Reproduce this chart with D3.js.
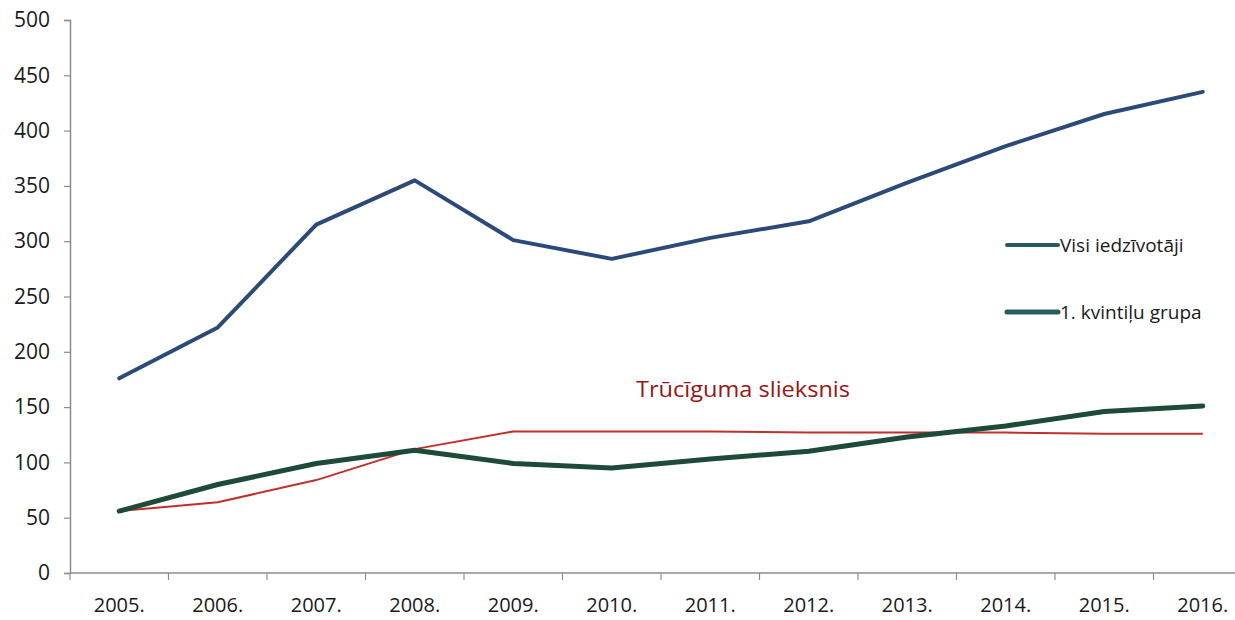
<!DOCTYPE html>
<html>
<head>
<meta charset="utf-8">
<script src="https://cdn.jsdelivr.net/npm/d3@7"></script>
<style>
  html, body { margin: 0; padding: 0; background: #fff; }
  svg { display: block; }
  text { font-family: "Open Sans", "Noto Sans", sans-serif; }
</style>
</head>
<body>
<div id="chart"></div>
<script>
// Years along the horizontal axis
const years = ["2005.", "2006.", "2007.", "2008.", "2009.", "2010.", "2011.", "2012.", "2013.", "2014.", "2015.", "2016."];
// Vertical axis ticks
const yTicks = [0, 50, 100, 150, 200, 250, 300, 350, 400, 450, 500];

// Series values
const visiIedzivotaji = [176, 222, 315, 355, 301, 284, 303, 318, 353, 386, 415, 435];
const kvintiluGrupa = [56, 80, 99, 111, 99, 95, 103, 110, 123, 133, 146, 151];
const trucigumaSlieksnis = [56, 64, 84, 112, 128, 128, 128, 127, 127, 127, 126, 126];

const W = 1235, H = 620;
const svg = d3.select("#chart").append("svg").attr("width", W).attr("height", H);

const x0 = 70, bandW = 98.5;
const x = d3.scaleBand().domain(years).range([x0, x0 + bandW * years.length]).paddingInner(0).paddingOuter(0);
const y = d3.scaleLinear().domain([0, 500]).range([573, 20]);

const axisColor = "#8c8c8c";

// Y axis
const yAxis = svg.append("g").attr("transform", `translate(${x0},0)`)
  .call(d3.axisLeft(y).tickValues(yTicks).tickSize(6).tickPadding(14));
yAxis.select(".domain").attr("stroke", axisColor).attr("stroke-width", 1.5);
yAxis.selectAll(".tick line").attr("stroke", axisColor).attr("stroke-width", 1.2);
yAxis.selectAll(".tick text").attr("fill", "#1a1a1a").attr("font-size", 21)
  .attr("font-family", "'Open Sans', sans-serif");

// X axis line with ticks at band boundaries
const xAxisG = svg.append("g");
xAxisG.append("line")
  .attr("x1", x0).attr("x2", W).attr("y1", y(0)).attr("y2", y(0))
  .attr("stroke", axisColor).attr("stroke-width", 1.5);
xAxisG.selectAll("line.tk").data(years)
  .join("line").attr("class", "tk")
  .attr("x1", d => x(d)).attr("x2", d => x(d))
  .attr("y1", y(0)).attr("y2", y(0) + 7)
  .attr("stroke", axisColor).attr("stroke-width", 1.2);
xAxisG.selectAll("text").data(years)
  .join("text")
  .attr("x", d => x(d) + x.bandwidth() / 2)
  .attr("y", 612)
  .attr("text-anchor", "middle")
  .attr("font-size", 20)
  .attr("fill", "#1a1a1a")
  .text(d => d);

const cx = (d, i) => x(years[i]) + x.bandwidth() / 2;
const line = d3.line().x((d, i) => cx(d, i)).y(d => y(d));

// Poverty threshold line
svg.append("path").datum(trucigumaSlieksnis)
  .attr("d", line).attr("fill", "none")
  .attr("stroke", "#c0302b").attr("stroke-width", 2).attr("stroke-linejoin", "round");

// Bottom quintile
svg.append("path").datum(kvintiluGrupa)
  .attr("d", line).attr("fill", "none")
  .attr("stroke", "#1e4a38").attr("stroke-width", 5).attr("stroke-linejoin", "round").attr("stroke-linecap", "round");

// All residents
svg.append("path").datum(visiIedzivotaji)
  .attr("d", line).attr("fill", "none")
  .attr("stroke", "#2c4a78").attr("stroke-width", 4).attr("stroke-linejoin", "round").attr("stroke-linecap", "round");

// Label for the threshold line
svg.append("text")
  .attr("x", 636).attr("y", 397)
  .attr("font-size", 22)
  .attr("fill", "#9b1515")
  .attr("textLength", 214)
  .attr("lengthAdjust", "spacingAndGlyphs")
  .text("Trūcīguma slieksnis");

// Legend
const legend = [
  { label: "Visi iedzīvotāji", y: 245, w: 4 },
  { label: "1. kvintiļu grupa", y: 312, w: 5 }
];
const lg = svg.append("g");
lg.selectAll("line").data(legend).join("line")
  .attr("x1", 1007).attr("x2", 1058)
  .attr("y1", d => d.y).attr("y2", d => d.y)
  .attr("stroke", "#2a5a5c").attr("stroke-width", d => d.w).attr("stroke-linecap", "round");
lg.selectAll("text").data(legend).join("text")
  .attr("x", 1060).attr("y", d => d.y + 7)
  .attr("font-size", 19)
  .attr("fill", "#1a1a1a")
  .text(d => d.label);
</script>
</body>
</html>
